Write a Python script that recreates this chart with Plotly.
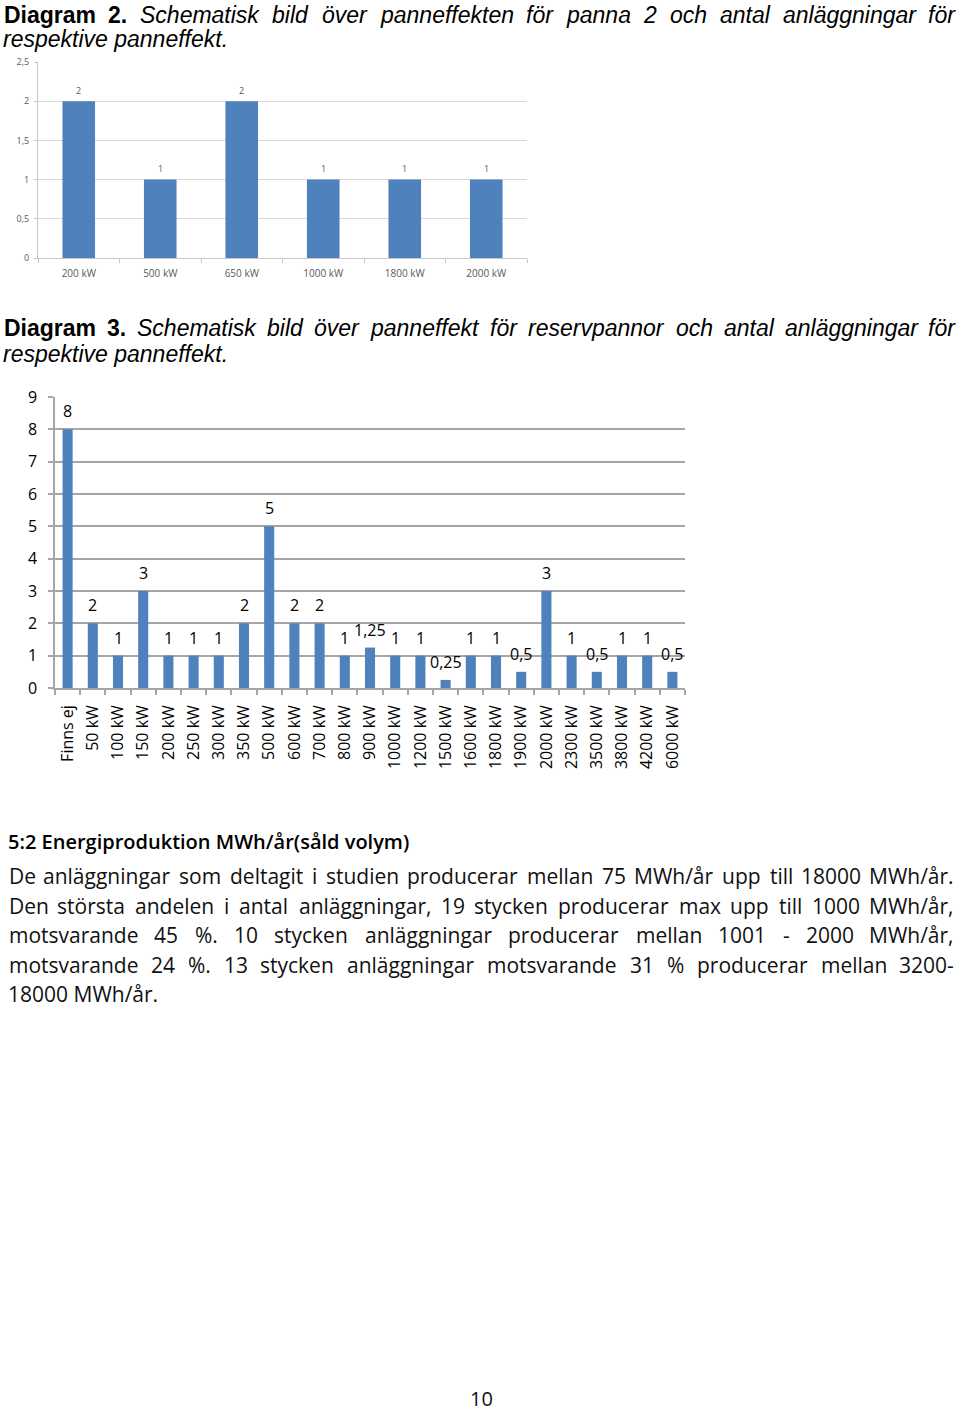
import plotly.graph_objects as go

W, H = 960, 1414

# ---------------- data ----------------
d2_categories = ["200 kW", "500 kW", "650 kW", "1000 kW", "1800 kW", "2000 kW"]
d2_values = [2, 1, 2, 1, 1, 1]
d2_yticks = [0, 0.5, 1, 1.5, 2, 2.5]

d3_categories = ["Finns ej", "50 kW", "100 kW", "150 kW", "200 kW", "250 kW", "300 kW",
                 "350 kW", "500 kW", "600 kW", "700 kW", "800 kW", "900 kW", "1000 kW",
                 "1200 kW", "1500 kW", "1600 kW", "1800 kW", "1900 kW", "2000 kW",
                 "2300 kW", "3500 kW", "3800 kW", "4200 kW", "6000 kW"]
d3_values = [8, 2, 1, 3, 1, 1, 1, 2, 5, 2, 2, 1, 1.25, 1, 1, 0.25, 1, 1, 0.5, 3,
             1, 0.5, 1, 1, 0.5]
d3_yticks = list(range(0, 10))

BLUE = "#4F81BD"


def fmt(v):
    s = ("%g" % v)
    return s.replace(".", ",")


fig = go.Figure()

fig.add_trace(go.Bar(
    x=d2_categories, y=d2_values, xaxis="x", yaxis="y",
    marker=dict(color=BLUE, line=dict(width=0)),
    showlegend=False, hoverinfo="skip",
))

fig.add_trace(go.Bar(
    x=d3_categories, y=d3_values, xaxis="x2", yaxis="y2",
    marker=dict(color=BLUE, line=dict(width=0)),
    showlegend=False, hoverinfo="skip",
))


def px(x):
    return x / W


def py(y):
    return 1 - y / H


fig.update_layout(
    width=W, height=H, margin=dict(l=0, r=0, t=0, b=0, pad=0, autoexpand=False),
    paper_bgcolor="white", plot_bgcolor="white",
    separators=", ", bargap=0.6, autosize=False,
    xaxis=dict(domain=[px(38), px(527)], type="category",
               showgrid=False, showline=True, linecolor="#c8c8c8", linewidth=1,
               ticks="outside", tickson="boundaries", ticklen=4, tickcolor="#c8c8c8",
               tickfont=dict(family="Open Sans", size=10, color="#595959"),
               ticklabelstandoff=6,
               anchor="y", fixedrange=True, automargin=False),
    yaxis=dict(domain=[py(258), py(62)], range=[0, 2.5], tickvals=d2_yticks,
               ticktext=[fmt(v) for v in d2_yticks],
               showgrid=True, gridcolor="#d9d9d9", gridwidth=1,
               showline=True, linecolor="#c8c8c8", linewidth=1,
               ticks="outside", ticklen=3, tickcolor="#c8c8c8", zeroline=False,
               tickfont=dict(family="Open Sans", size=9, color="#595959"),
               ticklabelstandoff=3,
               anchor="x", fixedrange=True, automargin=False),
    xaxis2=dict(domain=[px(55), px(685)], type="category",
                showgrid=False, showline=True, linecolor="#a6a6a6", linewidth=1.5,
                ticks="outside", tickson="boundaries", ticklen=5, tickcolor="#a6a6a6",
                tickwidth=1.5, tickangle=-90,
                tickfont=dict(family="Open Sans", size=16, color="#000000"),
                ticklabelstandoff=9,
                anchor="y2", fixedrange=True, automargin=False),
    yaxis2=dict(domain=[py(688), py(397)], range=[0, 9], tickvals=d3_yticks,
                showgrid=True, gridcolor="#a6a6a6", gridwidth=1.5,
                showline=True, linecolor="#a6a6a6", linewidth=1.5,
                ticks="outside", ticklen=5, tickcolor="#a6a6a6", tickwidth=1.5,
                zeroline=False,
                tickfont=dict(family="Open Sans", size=16, color="#000000"),
                ticklabelstandoff=8,
                anchor="x2", fixedrange=True, automargin=False),
)

annotations = []

# data labels (placed at each bar's value through the axes)
for c, v in zip(d2_categories, d2_values):
    annotations.append(dict(text=fmt(v), x=c, y=v, xref="x", yref="y",
                            yanchor="middle", xanchor="center", yshift=11,
                            showarrow=False, borderpad=0,
                            font=dict(family="Open Sans", size=9, color="#595959")))
for c, v in zip(d3_categories, d3_values):
    annotations.append(dict(text=fmt(v), x=c, y=v, xref="x2", yref="y2",
                            yanchor="middle", xanchor="center", yshift=18,
                            showarrow=False, borderpad=0,
                            font=dict(family="Open Sans", size=16, color="#000000")))

# ---------------- text ----------------
ARIAL = {
    'a': .556, 'b': .556, 'c': .5, 'd': .556, 'e': .556, 'f': .278, 'g': .556, 'h': .556,
    'i': .222, 'j': .222, 'k': .5, 'l': .222, 'm': .833, 'n': .556, 'o': .556, 'p': .556,
    'q': .556, 'r': .333, 's': .5, 't': .278, 'u': .556, 'v': .5, 'w': .722, 'x': .5,
    'y': .5, 'z': .5, 'ä': .556, 'å': .556, 'ö': .556, ' ': .278, '.': .278, ',': .278,
    'S': .667, 'D': .722, '2': .556, '3': .556,
}
ARIAL_BOLD = {'D': .722, 'i': .278, 'a': .556, 'g': .611, 'r': .389, 'm': .889,
              '2': .556, '3': .556, '.': .278}
OPENSANS = {
    'a': .556, 'b': .613, 'c': .476, 'd': .613, 'e': .561, 'f': .339, 'g': .548, 'h': .614,
    'i': .253, 'j': .253, 'k': .525, 'l': .253, 'm': .93, 'n': .614, 'o': .604, 'p': .613,
    'q': .613, 'r': .408, 's': .477, 't': .353, 'u': .614, 'v': .501, 'w': .778, 'x': .524,
    'y': .501, 'z': .462, 'ä': .556, 'å': .556, 'ö': .604, ' ': .26, '.': .266, ',': .25,
    '/': .371, '%': .838, '-': .322, ':': .266, '(': .296, ')': .296, 'D': .71, 'M': .907,
    'W': .928, 'E': .556, 'S': .549,
}
for ch in "0123456789":
    OPENSANS[ch] = .572


def width(word, table, size):
    return sum(table.get(ch, 0.56) for ch in word) * size


def add_text(text, x, y, family, size, color="#000000", xanchor="left"):
    annotations.append(dict(text=text, x=px(x), y=py(y), xref="paper", yref="paper",
                            xanchor=xanchor, yanchor="middle", showarrow=False,
                            font=dict(family=family, size=size, color=color),
                            borderpad=0))


def justify(words, x0, x1, y, family, size, color, styles=None, tables=None):
    n = len(words)
    ws = [width(w, tables[i] if tables else OPENSANS, size) for i, w in enumerate(words)]
    gap = (x1 - x0 - sum(ws)) / (n - 1)
    pos = x0
    for i, w in enumerate(words):
        txt = w
        if styles:
            txt = "<%s>%s</%s>" % (styles[i], w, styles[i])
        if i == 0:
            add_text(txt, pos, y, family, size, color, "left")
        elif i == n - 1:
            add_text(txt, x1, y, family, size, color, "right")
        else:
            add_text(txt, pos + ws[i] / 2, y, family, size, color, "center")
        pos += ws[i] + gap


def diagram_title(num, rest, y):
    words = ["Diagram", num + "."] + rest.split()
    styles = ["b", "b"] + ["i"] * (len(words) - 2)
    tables = [ARIAL_BOLD, ARIAL_BOLD] + [ARIAL] * (len(words) - 2)
    justify(words, 3, 957, y, "Liberation Sans, Arial", 23, "#000000", styles, tables)


diagram_title("2", "Schematisk bild över panneffekten för panna 2 och antal anläggningar för", 15)
add_text("<i>respektive panneffekt.</i>", 2, 39, "Liberation Sans, Arial", 23)
diagram_title("3", "Schematisk bild över panneffekt för reservpannor och antal anläggningar för", 328)
add_text("<i>respektive panneffekt.</i>", 2, 354, "Liberation Sans, Arial", 23)

annotations.append(dict(text="5:2 Energiproduktion MWh/år(såld volym)", x=px(7), y=py(841),
                        xref="paper", yref="paper", xanchor="left", yanchor="middle",
                        showarrow=False, borderpad=0,
                        font=dict(family="Open Sans", size=20, color="#000000", weight=600)))

body_lines = [
    "De anläggningar som deltagit i studien producerar mellan 75 MWh/år upp till 18000 MWh/år.",
    "Den största andelen i antal anläggningar, 19 stycken producerar max upp till 1000 MWh/år,",
    "motsvarande 45 %. 10 stycken anläggningar producerar mellan 1001 - 2000 MWh/år,",
    "motsvarande 24 %. 13 stycken anläggningar motsvarande 31 % producerar mellan 3200-",
]
body_y = [876, 906, 935, 965]
for line, yy in zip(body_lines, body_y):
    justify(line.split(), 8, 955, yy, "Open Sans", 21, "#111111")
add_text("18000 MWh/år.", 7, 994, "Open Sans", 21, "#111111")

add_text("10", 481, 1398, "Open Sans", 20, "#111111", "center")

fig.update_layout(annotations=annotations)

fig.write_html("out.html")
